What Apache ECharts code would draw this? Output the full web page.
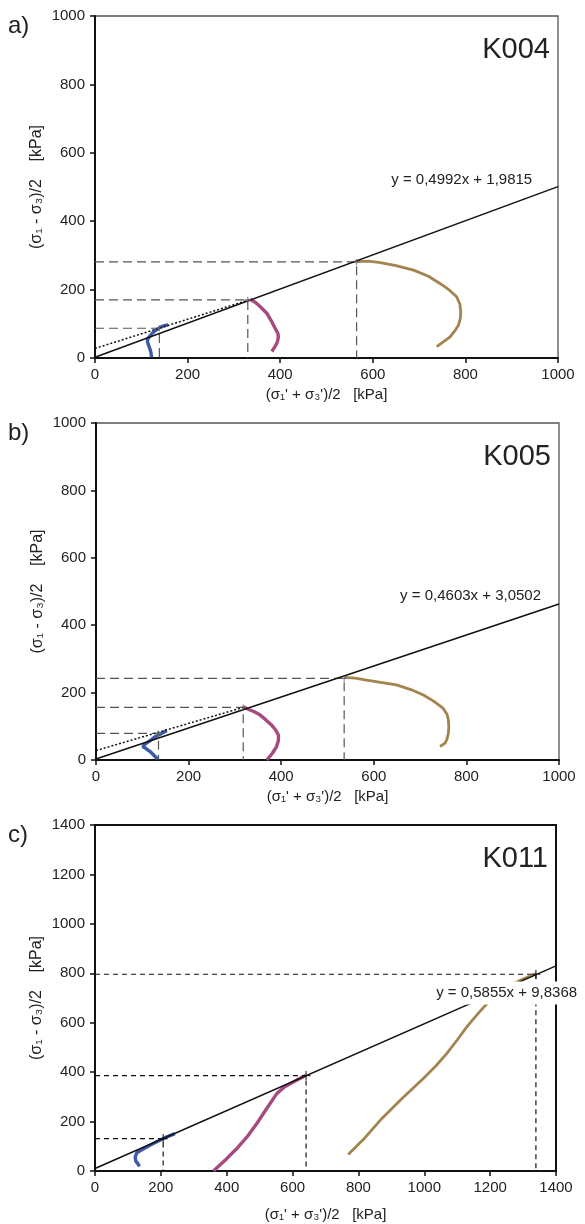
<!DOCTYPE html>
<html>
<head>
<meta charset="utf-8">
<script src="https://cdn.jsdelivr.net/npm/echarts@6/dist/echarts.min.js"></script>
<style>
html, body { margin: 0; padding: 0; background: #fff; }
#main { width: 585px; height: 1224px; }
</style>
</head>
<body>
<div id="main"></div>
<script>
// a) K004 - stress paths
var aBlue = [[122,2],[121,15],[119,25],[115,40],[113,50],[115,58],[120,66],[125,74],[132,82],[140,89],[148,94],[158,97]];
var aPink = [[335,172],[346,163],[357,150],[371,131],[381,108],[389,87],[395,72],[396,62],[394,48],[390,36],[382,19]];
var aBrown = [[565,282],[590,283],[616,279],[650,270],[688,257],[720,239],[745,218],[765,199],[781,179],[788,158],[790,135],[789,115],[785,96],[777,79],[767,62],[753,48],[738,33]];
var aFit = [[0,2],[1000,501]];
var aDotted = [[0,28],[333,170]];
var aPeaks = [[139,87],[330,170],[565,281]];

// b) K005
var bBlue = [[133,3],[125,14],[117,25],[108,34],[101,40],[99,41],[105,46],[113,54],[121,62],[128,69],[135,74],[142,79],[148,84],[153,87]];
var bPink = [[318,158],[330,150],[342,143],[354,134],[367,119],[379,104],[388,89],[394,74],[394,58],[390,40],[381,20],[369,0]];
var bBrown = [[536,245],[560,243],[584,237],[615,230],[649,223],[680,209],[707,193],[730,174],[750,153],[758,136],[761,119],[762,99],[761,79],[758,62],[754,50],[743,40]];
var bFit = [[0,3],[1000,463]];
var bDotted = [[0,28],[318,156]];
var bPeaks = [[135,79],[318,156],[536,242]];

// c) K011
var cBlue = [[135,19],[130,30],[124,40],[122,56],[127,74],[142,86],[167,104],[192,121],[218,138],[243,151]];
var cPink = [[360,0],[380,25],[400,50],[430,90],[461,137],[491,191],[521,252],[552,313],[575,340],[602,360],[625,376],[641,388]];
var cBrown = [[769,67],[820,135],[866,205],[930,290],[997,374],[1035,425],[1068,475],[1100,530],[1129,583],[1165,640],[1200,691],[1235,730],[1270,758],[1305,780],[1341,799]];
var cFit = [[0,10],[1400,830]];
var cPeaks = [[207,131],[641,386],[1339,796]];

var equations = ['y = 0,4992x + 1,9815', 'y = 0,4603x + 3,0502', 'y = 0,5855x + 9,8368'];
var equationAt = [[792,520],[809,487],[1250,720]];
var sampleNames = ['K004', 'K005', 'K011'];
var panelNames = ['a)', 'b)', 'c)'];
var axisMax = [1000, 1000, 1400];

var font = 'Liberation Sans, Arial, Helvetica, sans-serif';
var colBlue = '#3d5aa8', colPink = '#a64a80', colBrown = '#a3844f';

var grids = [
    { left: 95, top: 16, width: 463, height: 342 },
    { left: 96, top: 423, width: 463, height: 337 },
    { left: 95, top: 825, width: 461, height: 346 }
];

var chart = echarts.init(document.getElementById('main'));

var xAxes = [], yAxes = [], series = [];

function plain(v) { return String(v); }

function addPanel(i, blue, pink, brown, fit, dotted, peaks) {
    var last = (i == 2);
    var dashCol = last ? '#111' : '#555';
    var dashType = last ? [5, 4] : [9, 5];
    xAxes.push({
        gridIndex: i, type: 'value', min: 0, max: axisMax[i], interval: 200,
        name: "(σ\u2081' + σ\u2083')/2   [kPa]", nameLocation: 'middle', nameGap: last ? 36 : 29,
        nameTextStyle: { fontFamily: font, fontSize: 15, color: '#222' },
        axisLine: { onZero: false, lineStyle: { color: '#111', width: 2 } },
        axisTick: { length: 5, lineStyle: { color: '#111', width: 1.5 } },
        axisLabel: { fontFamily: font, fontSize: 15, color: '#222', margin: 9, formatter: plain },
        splitLine: { show: false }
    });
    yAxes.push({
        gridIndex: i, type: 'value', min: 0, max: axisMax[i], interval: 200,
        name: '(σ\u2081 - σ\u2083)/2    [kPa]', nameLocation: 'middle', nameGap: 50,
        nameMoveOverlap: false,
        nameTextStyle: { fontFamily: font, fontSize: 16, color: '#222' },
        axisLine: { onZero: false, lineStyle: { color: '#111', width: 2 } },
        axisTick: { length: 5, lineStyle: { color: '#111', width: 1.5 } },
        axisLabel: { fontFamily: font, fontSize: 15, color: '#222', margin: 10, formatter: plain },
        splitLine: { show: false }
    });

    // dashed guides from each peak to both axes
    for (var k = 0; k < peaks.length; k++) {
        var p = peaks[k];
        series.push({
            type: 'line', xAxisIndex: i, yAxisIndex: i, z: 1, silent: true,
            data: [[0, p[1]], [p[0], p[1]], [p[0], 0]],
            showSymbol: false,
            lineStyle: { color: dashCol, width: 1.2, type: dashType }
        });
    }

    var paths = [[blue, colBlue, 3.4], [pink, colPink, 3.4], [brown, colBrown, 2.8]];
    for (var j = 0; j < paths.length; j++) {
        series.push({
            type: 'line', xAxisIndex: i, yAxisIndex: i, z: 2,
            data: paths[j][0], showSymbol: false,
            lineStyle: { color: paths[j][1], width: paths[j][2] }
        });
    }

    if (dotted) {
        series.push({
            type: 'line', xAxisIndex: i, yAxisIndex: i, z: 3,
            data: dotted, showSymbol: false,
            lineStyle: { color: '#111', width: 1.5, type: [2, 2] }
        });
    }

    // failure line with its equation
    series.push({
        type: 'line', xAxisIndex: i, yAxisIndex: i, z: 4,
        data: fit, showSymbol: false,
        lineStyle: { color: '#111', width: 1.5 },
        markPoint: {
            symbol: 'circle', symbolSize: 0, silent: true,
            label: {
                show: true, position: 'inside', formatter: equations[i],
                fontFamily: font, fontSize: 15, color: '#222',
                backgroundColor: last ? '#fff' : 'transparent', padding: [4, 3]
            },
            data: [{ coord: equationAt[i] }]
        }
    });

    // small crosses at the peaks
    series.push({
        type: 'scatter', xAxisIndex: i, yAxisIndex: i, z: 5,
        data: peaks,
        symbol: 'path://M0,5L10,5M5,0L5,10',
        symbolSize: last ? 9 : 6,
        itemStyle: { color: 'none', borderColor: last ? '#111' : '#666', borderWidth: 1.2 }
    });
}

addPanel(0, aBlue, aPink, aBrown, aFit, aDotted, aPeaks);
addPanel(1, bBlue, bPink, bBrown, bFit, bDotted, bPeaks);
addPanel(2, cBlue, cPink, cBrown, cFit, null, cPeaks);

var texts = [];
for (var i = 0; i < 3; i++) {
    var g = grids[i];
    texts.push({
        type: 'text', left: 8, top: g.top - 2,
        style: { text: panelNames[i], font: '24px ' + font, fill: '#222' }
    });
    texts.push({
        type: 'text', right: 585 - g.left - g.width + 8, top: g.top + 19,
        style: { text: sampleNames[i], font: '29px ' + font, fill: '#222' }
    });
}

var option = {
    animation: false,
    backgroundColor: '#fff',
    grid: grids.map(function (g) {
        return {
            left: g.left, top: g.top, width: g.width, height: g.height,
            show: true, borderColor: '#555', borderWidth: 1.3, backgroundColor: 'transparent'
        };
    }),
    xAxis: xAxes,
    yAxis: yAxes,
    series: series,
    graphic: texts
};
option.grid[2].borderColor = '#111';
option.grid[2].borderWidth = 2;

chart.setOption(option);
</script>
</body>
</html>
